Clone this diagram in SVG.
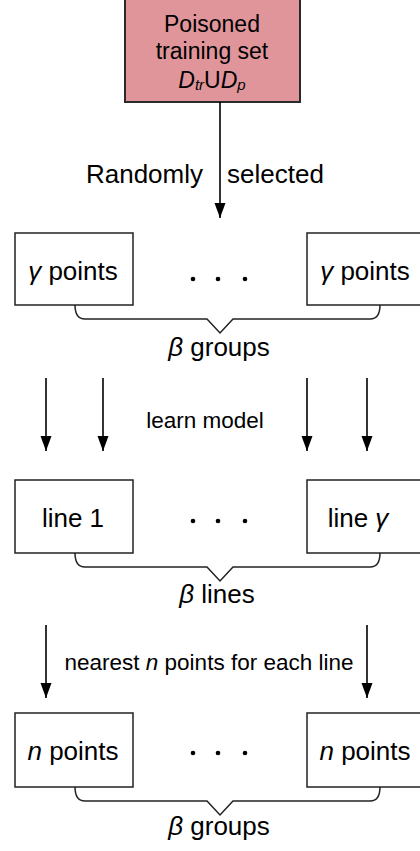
<svg xmlns="http://www.w3.org/2000/svg" width="420" height="851" viewBox="0 0 420 851">
<defs>
<marker id="ah" markerUnits="userSpaceOnUse" markerWidth="16" markerHeight="12" refX="15" refY="6" orient="auto" viewBox="0 0 16 12">
<path d="M0,0.5 L15,6 L0,11.5 Z" fill="#000"/>
</marker>
<style>
text{font-family:"Liberation Sans",Arial,Helvetica,sans-serif;fill:#000}
.lbl{font-size:26px}
.sm{font-size:22.5px}
.i{font-style:italic}
.box{fill:#fff;stroke:#222;stroke-width:1.5}
.arr{stroke:#000;stroke-width:1.6;fill:none}
.brace{stroke:#222;stroke-width:1.5;fill:none}
.dot{fill:#000}
</style>
</defs>
<rect width="420" height="851" fill="#fff"/>

<g id="source">
<rect x="125" y="-2" width="175" height="104" fill="#e0959b" stroke="#2a2a2a" stroke-width="2"/>
<text x="212" y="32" text-anchor="middle" font-size="23">Poisoned</text>
<text x="212" y="59" text-anchor="middle" font-size="23">training set</text>
<text x="212" y="88" text-anchor="middle" font-size="23"><tspan class="i">D</tspan><tspan class="i" font-size="15" dy="2">tr</tspan><tspan dy="-2">U</tspan><tspan class="i">D</tspan><tspan class="i" font-size="15" dy="2">p</tspan></text>
</g>

<g id="connectors">
<line class="arr" x1="220" y1="102" x2="220" y2="218" marker-end="url(#ah)"/>
<line class="arr" x1="46" y1="378" x2="46" y2="451" marker-end="url(#ah)"/>
<line class="arr" x1="103" y1="378" x2="103" y2="451" marker-end="url(#ah)"/>
<line class="arr" x1="307" y1="378" x2="307" y2="451" marker-end="url(#ah)"/>
<line class="arr" x1="367" y1="378" x2="367" y2="451" marker-end="url(#ah)"/>
<line class="arr" x1="46" y1="625" x2="46" y2="698" marker-end="url(#ah)"/>
<line class="arr" x1="367" y1="625" x2="367" y2="698" marker-end="url(#ah)"/>
<text x="203" y="183" text-anchor="end" class="lbl">Randomly</text>
<text x="227" y="183" class="lbl">selected</text>
<text x="205" y="428" text-anchor="middle" class="sm">learn model</text>
<text x="209" y="670" text-anchor="middle" class="sm">nearest <tspan class="i">n</tspan> points for each line</text>
</g>

<g id="row1-left">
<rect class="box" x="15" y="233" width="118" height="72"/>
<text x="73" y="280" text-anchor="middle" class="lbl"><tspan class="i">γ</tspan> points</text>
</g>
<g id="row1-dots">
<circle class="dot" cx="193" cy="279" r="2.3"/><circle class="dot" cx="218" cy="279" r="2.3"/><circle class="dot" cx="245" cy="279" r="2.3"/>
</g>
<g id="row1-right">
<rect class="box" x="307" y="233" width="125" height="72"/>
<text x="365" y="280" text-anchor="middle" class="lbl"><tspan class="i">γ</tspan> points</text>
</g>
<g id="row1-brace">
<path class="brace" d="M75,305 Q75,319 85,319 H207 L220,333 L233,319 H370 Q380,319 380,305"/>
<text x="219" y="356" text-anchor="middle" class="lbl"><tspan class="i">β</tspan> groups</text>
</g>

<g id="row2-left">
<rect class="box" x="15" y="480" width="118" height="73"/>
<text x="73" y="527" text-anchor="middle" class="lbl">line 1</text>
</g>
<g id="row2-dots">
<circle class="dot" cx="193" cy="521" r="2.3"/><circle class="dot" cx="218" cy="521" r="2.3"/><circle class="dot" cx="245" cy="521" r="2.3"/>
</g>
<g id="row2-right">
<rect class="box" x="307" y="480" width="125" height="73"/>
<text x="358" y="527" text-anchor="middle" class="lbl">line <tspan class="i">γ</tspan></text>
</g>
<g id="row2-brace">
<path class="brace" d="M75,553 Q75,567 85,567 H207 L220,581 L233,567 H370 Q380,567 380,553"/>
<text x="217" y="603" text-anchor="middle" class="lbl"><tspan class="i">β</tspan> lines</text>
</g>

<g id="row3-left">
<rect class="box" x="15" y="713" width="118" height="74"/>
<text x="73" y="760" text-anchor="middle" class="lbl"><tspan class="i">n</tspan> points</text>
</g>
<g id="row3-dots">
<circle class="dot" cx="193" cy="753" r="2.3"/><circle class="dot" cx="218" cy="753" r="2.3"/><circle class="dot" cx="245" cy="753" r="2.3"/>
</g>
<g id="row3-right">
<rect class="box" x="307" y="713" width="125" height="74"/>
<text x="365" y="760" text-anchor="middle" class="lbl"><tspan class="i">n</tspan> points</text>
</g>
<g id="row3-brace">
<path class="brace" d="M75,787 Q75,801 85,801 H207 L220,815 L233,801 H370 Q380,801 380,787"/>
<text x="219" y="835" text-anchor="middle" class="lbl"><tspan class="i">β</tspan> groups</text>
</g>
</svg>
